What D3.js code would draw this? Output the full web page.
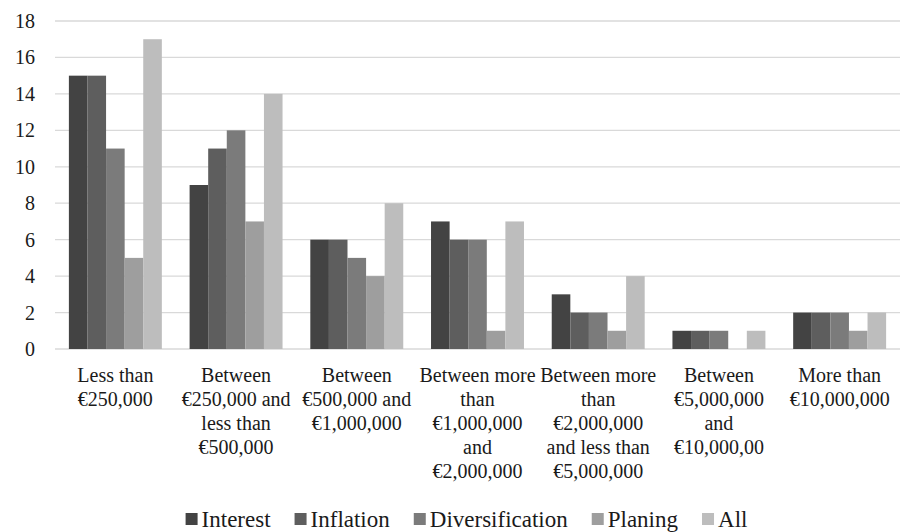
<!DOCTYPE html>
<html>
<head>
<meta charset="utf-8">
<script src="https://cdn.jsdelivr.net/npm/d3@7/dist/d3.min.js"></script>
<style>
  html, body { margin: 0; padding: 0; background: #fff; }
  #chart text { font-family: "Times New Roman", "Liberation Serif", Tinos, serif; font-size: 20px; fill: #1a1a1a; }
  #chart .legend text { font-size: 23px; }
</style>
</head>
<body>
<svg id="chart" width="903" height="532"></svg>
<script>
// Wealth brackets (line breaks as shown under each group)
const categories = [
  "Less than\n€250,000",
  "Between\n€250,000 and\nless than\n€500,000",
  "Between\n€500,000 and\n€1,000,000",
  "Between more\nthan\n€1,000,000\nand\n€2,000,000",
  "Between more\nthan\n€2,000,000\nand less than\n€5,000,000",
  "Between\n€5,000,000\nand\n€10,000,00",
  "More than\n€10,000,000"
];
const seriesNames = ["Interest", "Inflation", "Diversification", "Planing", "All"];
const interest        = [15, 9, 6, 7, 3, 1, 2];
const inflation       = [15, 11, 6, 6, 2, 1, 2];
const diversification = [11, 12, 5, 6, 2, 1, 2];
const planing         = [5, 7, 4, 1, 1, 0, 1];
const all             = [17, 14, 8, 7, 4, 1, 2];
const yTicks = [0, 2, 4, 6, 8, 10, 12, 14, 16, 18];
const colors = ["#434343", "#5e5e5e", "#7b7b7b", "#9e9e9e", "#bdbdbd"];

const seriesValues = [interest, inflation, diversification, planing, all];

const svg = d3.select("#chart");
const plot = { left: 55, right: 900, top: 21, bottom: 349 };

const x = d3.scaleBand()
  .domain(categories)
  .range([plot.left, plot.right])
  .paddingInner(0.23)
  .paddingOuter(0.115);

const xSeries = d3.scaleBand()
  .domain(seriesNames)
  .range([0, x.bandwidth()])
  .padding(0);

const y = d3.scaleLinear()
  .domain([0, 18])
  .range([plot.bottom, plot.top]);

// Horizontal gridlines
svg.append("g")
  .selectAll("line")
  .data(yTicks)
  .join("line")
  .attr("x1", plot.left)
  .attr("x2", plot.right)
  .attr("y1", d => y(d))
  .attr("y2", d => y(d))
  .attr("stroke", "#d9d9d9")
  .attr("stroke-width", 1.3);

// Y tick labels
svg.append("g")
  .selectAll("text")
  .data(yTicks)
  .join("text")
  .attr("x", 35)
  .attr("y", d => y(d))
  .attr("dy", "0.35em")
  .attr("text-anchor", "end")
  .text(d => d);

// Bars
const groups = svg.append("g")
  .selectAll("g")
  .data(categories)
  .join("g")
  .attr("transform", d => `translate(${x(d)},0)`);

groups.selectAll("rect")
  .data((d, i) => seriesNames.map((s, k) => ({ s, v: seriesValues[k][i], k })))
  .join("rect")
  .attr("x", d => xSeries(d.s))
  .attr("width", xSeries.bandwidth())
  .attr("y", d => y(d.v))
  .attr("height", d => y(0) - y(d.v))
  .attr("fill", d => colors[d.k]);

// Category labels
const catLabels = svg.append("g")
  .selectAll("text")
  .data(categories)
  .join("text")
  .attr("text-anchor", "middle")
  .attr("transform", d => `translate(${x(d) + x.bandwidth() / 2},382)`);

catLabels.selectAll("tspan")
  .data(d => d.split("\n"))
  .join("tspan")
  .attr("x", 0)
  .attr("y", (d, i) => i * 24)
  .text(d => d);

// Legend
const legend = svg.append("g").attr("class", "legend");
let cx = 0;
seriesNames.forEach((name, k) => {
  const item = legend.append("g").attr("transform", `translate(${cx},0)`);
  item.append("rect")
    .attr("x", 0).attr("y", -14)
    .attr("width", 12).attr("height", 12)
    .attr("fill", colors[k]);
  const t = item.append("text")
    .attr("x", 16).attr("y", 0)
    .text(name);
  cx += 16 + t.node().getComputedTextLength() + 24;
});
const legendWidth = cx - 24;
legend.attr("transform", `translate(${466.5 - legendWidth / 2},527)`);
</script>
</body>
</html>
